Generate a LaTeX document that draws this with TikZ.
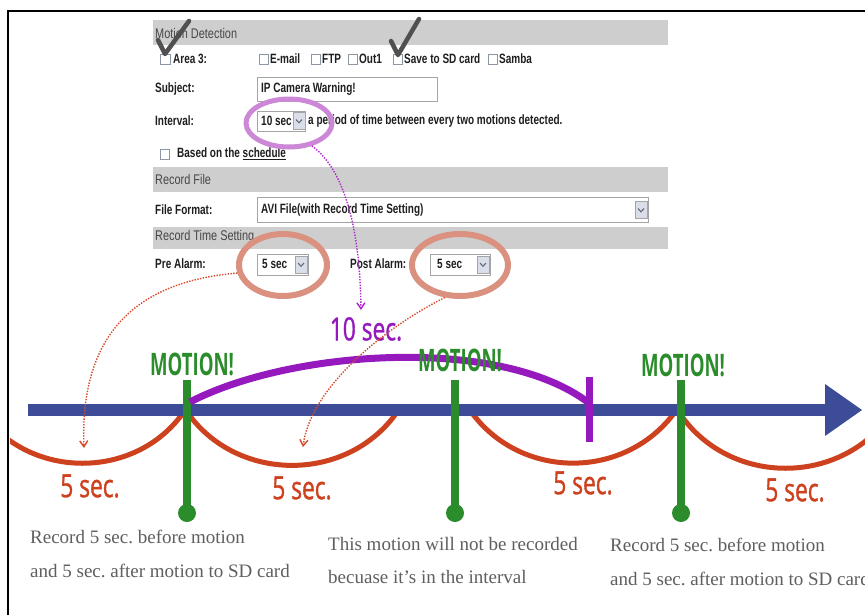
\documentclass[tikz,border=0pt]{standalone}
\usepackage{fontspec}
\setmainfont{Liberation Serif}
\newfontfamily\uifont[FakeStretch=0.74]{Liberation Sans}
\newfontfamily\barfont[FakeStretch=0.78]{Liberation Sans}
\newfontfamily\bigsans[FakeStretch=0.6]{Open Sans}
\newfontfamily\secsans[FakeStretch=0.71,FakeBold=1]{Open Sans}
\usetikzlibrary{arrows.meta,shapes.geometric,calc}
\definecolor{uiblack}{RGB}{30,30,30}
\definecolor{barfill}{RGB}{206,206,206}
\definecolor{bartext}{RGB}{70,70,70}
\definecolor{cbgray}{RGB}{140,150,165}
\definecolor{boxgray}{RGB}{165,165,165}
\definecolor{ddfill}{RGB}{218,222,232}
\definecolor{chevgray}{RGB}{90,100,120}
\definecolor{checkgray}{RGB}{80,80,80}
\definecolor{ellpurple}{RGB}{205,135,215}
\definecolor{ellsalmon}{RGB}{218,145,128}
\definecolor{dotpurple}{RGB}{175,40,205}
\definecolor{dotred}{RGB}{215,75,45}
\definecolor{tlblue}{RGB}{60,76,150}
\definecolor{tlgreen}{RGB}{42,140,42}
\definecolor{tlpurple}{RGB}{150,25,190}
\definecolor{tlred}{RGB}{205,65,30}
\definecolor{notegray}{RGB}{95,95,95}
\newcommand\mydd[2]{%
  \draw[ddbtn] (#1-6,#2-8.5) rectangle (#1+6,#2+8.5);
  \draw[chev] (#1-3,#2-1.5) -- (#1,#2+1.8) -- (#1+3,#2-1.5);}
\begin{document}
\frenchspacing
\begin{tikzpicture}[x=1pt,y=-1pt,
  uitxt/.style={font=\uifont\bfseries\fontsize{13.5}{15}\selectfont, text=uiblack, inner sep=0pt, anchor=west},
  bartxt/.style={font=\barfont\fontsize{14}{15}\selectfont, text=bartext, inner sep=0pt, anchor=west},
  cbox/.style={draw=cbgray, fill=white, line width=0.8pt},
  inbox/.style={draw=boxgray, fill=white, line width=0.8pt},
  ddbtn/.style={draw=boxgray, fill=ddfill, line width=0.6pt},
  chev/.style={draw=chevgray, line width=1pt},
  checkm/.style={draw=checkgray, line width=4.5pt, line cap=round, line join=round},
  ellp/.style={ellipse, draw=ellpurple, line width=5pt, inner sep=0pt},
  ells/.style={ellipse, draw=ellsalmon, line width=6pt, inner sep=0pt},
  dotp/.style={draw=dotpurple, line width=1.4pt, dash pattern=on 1.4pt off 1.4pt, -{Straight Barb[length=6pt,width=8pt]}},
  dotr/.style={draw=dotred, line width=1.4pt, dash pattern=on 1.4pt off 1.4pt, -{Straight Barb[length=6pt,width=8pt]}},
  motion/.style={font=\bigsans\bfseries\fontsize{31}{31}\selectfont, text=tlgreen, inner sep=0pt},
  seclbl/.style={font=\secsans\fontsize{32}{32}\selectfont, inner sep=0pt},
  recarc/.style={draw=tlred, line width=5pt},
  pin/.style={draw=tlgreen, line width=8pt},
  note/.style={font=\fontsize{19}{22}\selectfont, text=notegray, inner sep=0pt, anchor=base west}
]
\useasboundingbox (0,0) rectangle (865,614);
\fill[white] (0,0) rectangle (865,614);
\clip (0,0) rectangle (865,614);

% ---------- settings panel ----------
\fill[barfill] (153,20) rectangle (668,45);
\fill[barfill] (153,167) rectangle (668,192);
\fill[barfill] (153,227) rectangle (668,249);
\node[bartxt] (hmd) at (155,33) {Motion Detection};
\node[bartxt] (hrf) at (155,179) {Record File};
\node[bartxt] (hrt) at (155,237) {Record Time Setting};

% Area 3 row
\draw[cbox] (160,54) rectangle (170,64);
\node[uitxt] (area) at (173,59) {Area 3:};
\draw[cbox] (259,54) rectangle (268,64);
\node[uitxt] (email) at (270,59) {E-mail};
\draw[cbox] (311,54) rectangle (320,64);
\node[uitxt] (ftp) at (322,59) {FTP};
\draw[cbox] (348,54) rectangle (357,64);
\node[uitxt] (out) at (359,59) {Out1};
\draw[cbox] (393,54) rectangle (402,64);
\node[uitxt] (sd) at (404,59) {Save to SD card};
\draw[cbox] (488,54) rectangle (497,64);
\node[uitxt] (samba) at (499,59) {Samba};

% Subject
\node[uitxt] (subj) at (155,89) {Subject:};
\draw[inbox] (257,77) rectangle (437,101);
\node[uitxt] (subjv) at (261,89) {IP Camera Warning!};

% Interval
\node[uitxt] (intl) at (155,121) {Interval:};
\draw[inbox] (257,111) rectangle (305,131);
\node[uitxt] (intv) at (261,121) {10 sec};
\mydd{299}{121}
\node[uitxt] (intd) at (308,121) {a period of time between every two motions detected.};

% schedule
\draw[cbox] (160,149) rectangle (169,159);
\node[uitxt] (sched) at (177,154) {Based on the \underline{schedule}};

% File format
\node[uitxt] (ffl) at (155,210) {File Format:};
\draw[inbox] (257,197) rectangle (648,222);
\node[uitxt] (ffv) at (261,210) {AVI File(with Record Time Setting)};
\mydd{641}{210}

% Pre / Post alarm
\node[uitxt] (prel) at (155,264) {Pre Alarm:};
\draw[inbox] (257,254) rectangle (308,275);
\node[uitxt] (prev) at (262,264) {5 sec};
\mydd{301}{264.5}
\node[uitxt] (postl) at (350,264) {Post Alarm:};
\draw[inbox] (430,254) rectangle (490,275);
\node[uitxt] (postv) at (437,264) {5 sec};
\mydd{483}{264.5}

% check marks
\draw[checkm] (158,40) -- (165,54) -- (189,21);
\draw[checkm] (391,41) -- (398,55) -- (419,19);

% highlight ellipses
\node[ellp, minimum width=86pt, minimum height=48pt] (intell) at (289,123) {};
\node[ells, minimum width=88pt, minimum height=62pt] (preell) at (283,265) {};
\node[ells, minimum width=96pt, minimum height=62pt] (postell) at (460,265) {};

% ---------- timeline ----------
\begin{scope}
\clip (10,0) rectangle (865,614);
\draw[recarc] (-18,413) .. controls (30,480) and (135,480) .. (183,413);
\end{scope}
\draw[recarc] (190,416) .. controls (240,482) and (345,482) .. (395,415);
\draw[recarc] (472,413) .. controls (522,480) and (625,480) .. (675,412);
\draw[recarc] (683,418) .. controls (733,485) and (838,485) .. (888,418);

\fill[tlblue] (28,404) rectangle (827,416);
\fill[tlblue] (825,384) -- (862,410) -- (825,436) -- cycle;

\coordinate (m1) at (187,380);
\coordinate (m2) at (455,380);
\coordinate (m3) at (681,380);
\foreach \c in {m1,m2,m3}{
  \draw[pin] (\c) -- ++(0,126);
  \fill[tlgreen] ($(\c)+(0,133)$) circle (9);
}

\coordinate (pend) at (589,403);
\draw[tlpurple, line width=7pt] (190,402) .. controls (290,350) and (500,335) .. (pend);
\draw[tlpurple, line width=7pt] (589,377) -- (589,442);

\node[motion] (mot1) at (192,364) {MOTION!};
\node[motion] (mot2) at (460,360) {MOTION!};
\node[motion] (mot3) at (683,365) {MOTION!};

\node[seclbl, text=tlpurple] (ten) at (366,329) {10 sec.};
\node[seclbl, text=tlred] (s1) at (90,486) {5 sec.};
\node[seclbl, text=tlred] (s2) at (302,488) {5 sec.};
\node[seclbl, text=tlred] (s3) at (583,483) {5 sec.};
\node[seclbl, text=tlred] (s4) at (795,490) {5 sec.};

% dotted pointers
\coordinate (tenarr) at (361,310);
\coordinate (prearr) at (84,448);
\coordinate (postarr) at (303,447);
\draw[dotp] (intell.315) .. controls (345,170) and (360,230) .. (tenarr);
\draw[dotr] (preell.190) .. controls (130,282) and (80,340) .. (prearr);
\draw[dotr] (postell.245) .. controls (380,330) and (310,390) .. (postarr);

% notes
\node[note] (n1a) at (30,543) {Record 5 sec. before motion};
\node[note] (n1b) at (30,577) {and 5 sec. after motion to SD card};
\node[note] (n2a) at (328,550) {This motion will not be recorded};
\node[note] (n2b) at (328,583) {becuase it's in the interval};
\node[note] (n3a) at (610,551) {Record 5 sec. before motion};
\node[note] (n3b) at (610,585) {and 5 sec. after motion to SD card};

% frame
\draw[line width=2pt, black] (8,616) -- (8,11) -- (867,11);
\end{tikzpicture}
\end{document}
